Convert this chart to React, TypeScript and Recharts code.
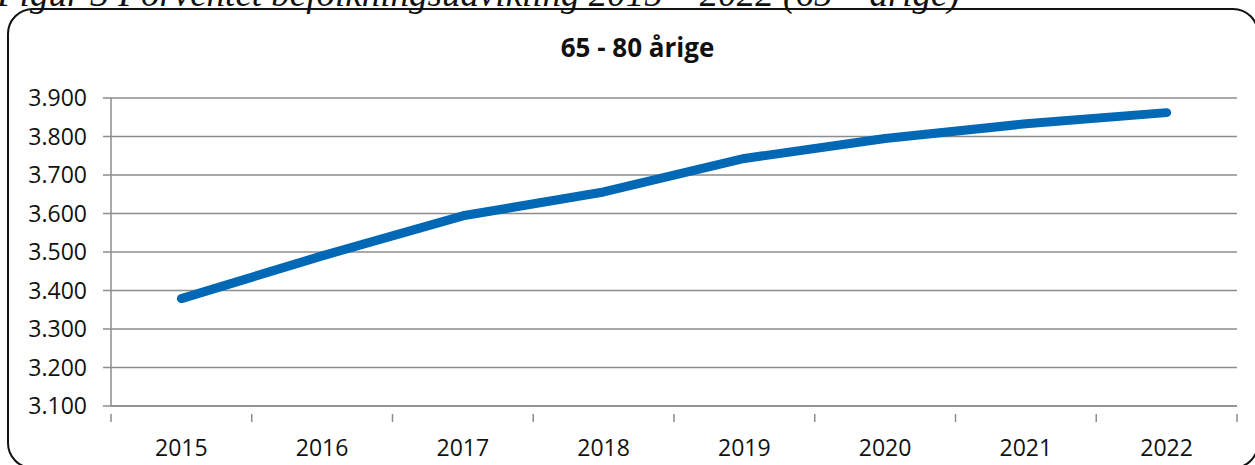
import { CartesianGrid, Line, LineChart, XAxis, YAxis } from "recharts";

const years = ["2015", "2016", "2017", "2018", "2019", "2020", "2021", "2022"];
const values = [3379, 3490, 3594, 3656, 3743, 3795, 3833, 3862];
const yTicks = [3100, 3200, 3300, 3400, 3500, 3600, 3700, 3800, 3900];

// slots 0..8 carry the tick marks, half-steps carry the year labels
const xTicks = Array.from({ length: years.length * 2 + 1 }, (_, i) => i / 2);

const data = years.map((year, i) => ({ year, pos: i + 0.5, value: values[i] }));

const axisGray = "#8c8c8c";
const font = "'Open Sans', sans-serif";

const fmt = (v: number) => `${Math.floor(v / 1000)}.${String(v % 1000).padStart(3, "0")}`;

function YearTick({ x, y, payload }: any) {
  const v = payload.value as number;
  if (Number.isInteger(v)) {
    return <line x1={x} x2={x} y1={y} y2={y + 8} stroke={axisGray} strokeWidth={1.5} />;
  }
  return (
    <text x={x} y={y + 42} textAnchor='middle' fontSize={23} fill='#111' fontFamily={font}>
      {years[Math.floor(v)]}
    </text>
  );
}

export default function App() {
  return (
    <div style={{ position: "fixed", left: 0, top: 0, width: 1255, height: 465, overflow: "hidden", background: "#fff" }}>
      <div
        style={{
          position: "absolute",
          left: -3,
          top: -25,
          fontFamily: "'Liberation Serif', serif",
          fontStyle: "italic",
          fontSize: 37,
          lineHeight: "37px",
          whiteSpace: "nowrap",
          color: "#111",
        }}
      >
        Figur 3 Forventet befolkningsudvikling 2015 – 2022 (65 – årige)
      </div>
      <div
        style={{
          position: "absolute",
          left: 7,
          top: 8,
          width: 1252,
          height: 461,
          border: "2px solid #111",
          borderRadius: 26,
          boxSizing: "border-box",
          background: "transparent",
        }}
      />
      <div
        style={{
          position: "absolute",
          left: 0,
          top: 34,
          width: 1255,
          textAlign: "center",
          fontFamily: font,
          fontWeight: 700,
          fontSize: 26,
          lineHeight: "26px",
          color: "#111",
          paddingLeft: 20,
          boxSizing: "border-box",
        }}
      >
        65 - 80 årige
      </div>
      <div style={{ position: "absolute", left: 0, top: 0 }}>
        <LineChart width={1255} height={465} data={data} margin={{ top: 98, right: 18, left: 21, bottom: 19 }}>
          <CartesianGrid horizontal vertical={false} stroke={axisGray} strokeWidth={1.5} />
          <XAxis
            dataKey='pos'
            type='number'
            domain={[0, years.length]}
            ticks={xTicks}
            interval={0}
            height={40}
            axisLine={{ stroke: axisGray, strokeWidth: 1.5 }}
            tickLine={false}
            tick={<YearTick />}
          />
          <YAxis
            domain={[3100, 3900]}
            ticks={yTicks}
            interval={0}
            width={90}
            tickFormatter={fmt}
            tickSize={8}
            tickMargin={16}
            axisLine={{ stroke: axisGray, strokeWidth: 1.5 }}
            tickLine={{ stroke: axisGray, strokeWidth: 1.5 }}
            tick={{ fontSize: 23, fill: "#111", fontFamily: font }}
          />
          <Line
            dataKey='value'
            stroke='#0068b5'
            strokeWidth={9}
            strokeLinecap='round'
            strokeLinejoin='round'
            dot={false}
            activeDot={false}
            isAnimationActive={false}
          />
        </LineChart>
      </div>
    </div>
  );
}
